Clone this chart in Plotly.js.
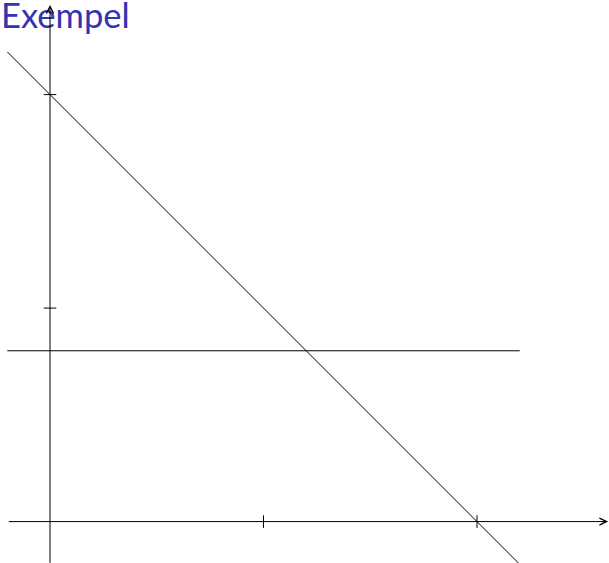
<!DOCTYPE html>
<html>
<head>
<meta charset="utf-8">
<script src="https://cdn.plot.ly/plotly-3.0.1.min.js"></script>
<style>html,body{margin:0;padding:0;background:#fff;}#chart{width:609px;height:563px;}</style>
</head>
<body>
<div id="chart"></div>
<script>
// Data
const titleText = "Exempel";
const lineX = [-0.2, 2.2];
const diagonalY = [2.2, -0.2];
const horizontalY = [0.8, 0.8];
const xTicks = [1, 2];
const yTicks = [1, 2];
const xAxisExtent = [-0.2, 2.614];
const yAxisExtent = [-0.2, 2.42];

const ink = "#000000";

const traces = [
  {x: lineX, y: diagonalY, mode: "lines", line: {color: ink, width: 1}, hoverinfo: "skip"},
  {x: lineX, y: horizontalY, mode: "lines", line: {color: ink, width: 1}, hoverinfo: "skip"},
  {x: xTicks, y: xTicks.map(() => 0), mode: "markers",
   marker: {symbol: "line-ns", size: 9, line: {color: ink, width: 1}}, hoverinfo: "skip"},
  {x: yTicks.map(() => 0), y: yTicks, mode: "markers",
   marker: {symbol: "line-ew", size: 9, line: {color: ink, width: 1}}, hoverinfo: "skip"}
];

const arrowStyle = {showarrow: true, text: "", arrowhead: 5, arrowsize: 1.4, arrowwidth: 1,
  arrowcolor: ink, axref: "x", ayref: "y", xref: "x", yref: "y", standoff: 0, startstandoff: 0};

const layout = {
  width: 609, height: 563,
  margin: {l: 0, r: 0, t: 0, b: 0},
  paper_bgcolor: "#fff", plot_bgcolor: "#fff",
  showlegend: false,
  title: {text: titleText, x: 0, xref: "paper", xanchor: "left", y: 0.972, yref: "container", yanchor: "middle",
          pad: {t: 0, l: 1}, font: {family: "Lato, 'Open Sans', sans-serif", size: 34.5, color: "#3333B3"}},
  xaxis: {range: [-0.2342, 2.6183], visible: false, fixedrange: true},
  yaxis: {range: [-0.194, 2.443], visible: false, fixedrange: true},
  annotations: [
    Object.assign({}, arrowStyle, {x: xAxisExtent[1], y: 0, ax: xAxisExtent[0], ay: 0}),
    Object.assign({}, arrowStyle, {x: 0, y: yAxisExtent[1], ax: 0, ay: yAxisExtent[0]})
  ]
};

Plotly.newPlot("chart", traces, layout, {displayModeBar: false, staticPlot: true});
</script>
</body>
</html>
